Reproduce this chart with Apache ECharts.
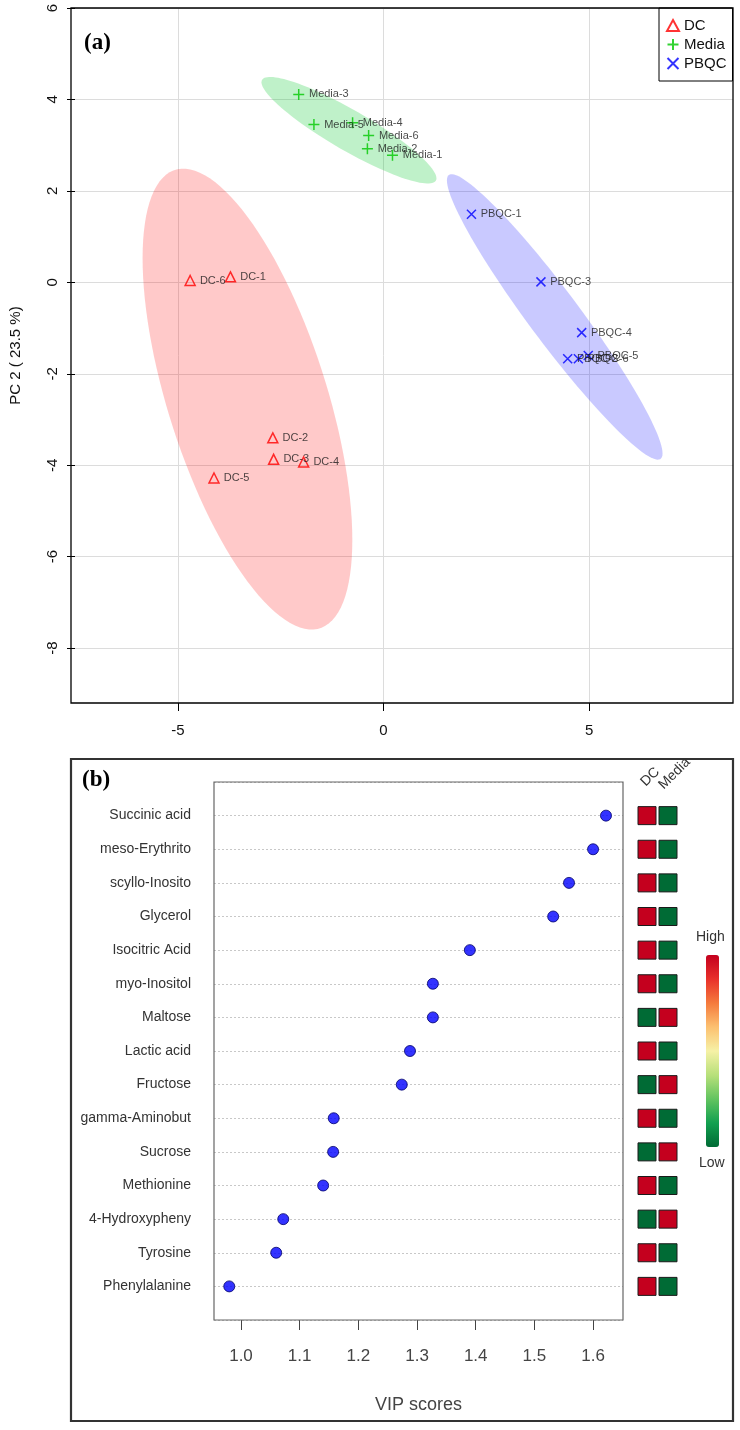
<!DOCTYPE html>
<html><head><meta charset="utf-8">
<script src="https://cdn.jsdelivr.net/npm/echarts@6/dist/echarts.min.js"></script>
<style>html,body{margin:0;padding:0;background:#fff}#c{width:740px;height:1430px}</style>
</head><body><div id="c"></div>
<script>
// ---------- Panel (a) data: PCA scores ----------
const dcLabels = ['DC-1','DC-2','DC-3','DC-4','DC-5','DC-6'];
const dcPC1 = [-3.72,-2.69,-2.67,-1.94,-4.12,-4.70];
const dcPC2 = [0.12,-3.40,-3.87,-3.93,-4.28,0.04];
const mediaLabels = ['Media-1','Media-2','Media-3','Media-4','Media-5','Media-6'];
const mediaPC1 = [0.22,-0.39,-2.06,-0.75,-1.69,-0.36];
const mediaPC2 = [2.78,2.92,4.11,3.49,3.45,3.21];
const pbqcLabels = ['PBQC-1','PBQC-2','PBQC-3','PBQC-4','PBQC-5','PBQC-6'];
const pbqcPC1 = [2.14,4.48,3.83,4.82,4.98,4.74];
const pbqcPC2 = [1.49,-1.67,0.01,-1.10,-1.60,-1.67];
const xTicksA = [-5,0,5];
const yTicksA = [-8,-6,-4,-2,0,2,4,6];

// ---------- Panel (b) data: VIP scores ----------
const vipNames = ['Succinic acid','meso-Erythrito','scyllo-Inosito','Glycerol','Isocitric Acid','myo-Inositol','Maltose','Lactic acid','Fructose','gamma-Aminobut','Sucrose','Methionine','4-Hydroxypheny','Tyrosine','Phenylalanine'];
const vipScores = [1.622,1.600,1.559,1.532,1.390,1.327,1.327,1.288,1.274,1.158,1.157,1.140,1.072,1.060,0.980];
const heatGroups = ['DC','Media'];
const heatDC    = [1,1,1,1,1,1,0,1,0,1,0,1,0,1,1];
const heatMedia = [0,0,0,0,0,0,1,0,1,0,1,0,1,0,0];
const vipTicks = [1.0,1.1,1.2,1.3,1.4,1.5,1.6];

const FONT = '"Liberation Sans", Arial, sans-serif';

// 95% confidence ellipse from sample covariance of the points
function confEllipse(xs, ys) {
  const n = xs.length;
  const mx = xs.reduce((a, b) => a + b, 0) / n;
  const my = ys.reduce((a, b) => a + b, 0) / n;
  let sxx = 0, syy = 0, sxy = 0;
  for (let i = 0; i < n; i++) {
    sxx += (xs[i] - mx) ** 2; syy += (ys[i] - my) ** 2; sxy += (xs[i] - mx) * (ys[i] - my);
  }
  sxx /= (n - 1); syy /= (n - 1); sxy /= (n - 1);
  const t = Math.sqrt(5.991464547);
  const a = Math.sqrt(sxx), b = sxy / a, c = Math.sqrt(syy - b * b);
  const pts = [];
  for (let k = 0; k < 120; k++) {
    const th = 2 * Math.PI * k / 120, u = Math.cos(th), v = Math.sin(th);
    pts.push([mx + t * a * u, my + t * (b * u + c * v)]);
  }
  return { center: [mx, my], pts };
}

function ellipseSeries(name, xs, ys, fill) {
  const e = confEllipse(xs, ys);
  return {
    name: name, type: 'custom', coordinateSystem: 'cartesian2d', xAxisIndex: 0, yAxisIndex: 0,
    z: 1, silent: true,
    data: [e.center],
    renderItem: function (params, api) {
      return { type: 'polygon', shape: { points: e.pts.map(p => api.coord(p)) }, style: { fill: fill, stroke: null } };
    }
  };
}

function scatterSeries(name, labels, xs, ys, symbol, size, color) {
  return {
    name: name, type: 'scatter', xAxisIndex: 0, yAxisIndex: 0, z: 5,
    symbol: symbol, symbolSize: size,
    itemStyle: { color: 'rgba(0,0,0,0)', borderColor: color, borderWidth: 1.5 },
    label: { show: true, position: 'right', distance: 4, formatter: '{b}', fontSize: 11, color: '#1a1a1a', fontFamily: FONT },
    data: labels.map((l, i) => ({ name: l, value: [xs[i], ys[i]] }))
  };
}

const heatData = [];
vipNames.forEach((n, i) => {
  heatData.push([0, i + 1, heatDC[i]]);
  heatData.push([1, i + 1, heatMedia[i]]);
});

// rotated column headers of the heat strip
const headerPos = [[648, 789], [666, 792]];
const headerGraphics = heatGroups.map((g, i) => ({
  type: 'text', z: 100, silent: true, x: headerPos[i][0], y: headerPos[i][1], rotation: Math.PI / 4,
  style: { text: g, x: 0, y: 0, textAlign: 'left', textVerticalAlign: 'bottom', font: '14px "Liberation Sans", Arial', fill: '#333' }
}));

const chart = echarts.init(document.getElementById('c'));
chart.setOption({
  animation: false,
  backgroundColor: '#fff',
  textStyle: { fontFamily: FONT },
  legend: {
    data: ['DC', 'Media', 'PBQC'], orient: 'vertical', left: 659, top: 8,
    padding: [10, 6, 10, 7], itemGap: 4, itemWidth: 12, itemHeight: 11,
    backgroundColor: '#fff', borderColor: '#000', borderWidth: 1, borderRadius: 0,
    textStyle: { fontSize: 15, color: '#111', fontFamily: FONT }
  },
  grid: [
    { left: 71, top: 8, width: 662, height: 695 },
    { left: 214, top: 782, width: 409, height: 538 },
    { left: 636.5, top: 782, width: 42, height: 538 }
  ],
  xAxis: [
    {
      gridIndex: 0, type: 'value', min: -7.5, max: 8.5, position: 'bottom',
      axisLine: { show: false, onZero: false },
      axisTick: { show: true, length: 8, customValues: xTicksA, lineStyle: { color: '#000' } },
      axisLabel: { customValues: xTicksA, margin: 20, fontSize: 15, color: '#111', fontFamily: FONT },
      splitLine: { show: true, lineStyle: { color: '#dcdcdc', width: 1 } }
    },
    {
      gridIndex: 1, type: 'value', min: 0.954, max: 1.651, position: 'bottom',
      axisLine: { show: false, onZero: false },
      axisTick: { show: true, length: 10, customValues: vipTicks, lineStyle: { color: '#444' } },
      axisLabel: { customValues: vipTicks, margin: 28, fontSize: 17, color: '#444', fontFamily: FONT, formatter: v => v.toFixed(1) },
      splitLine: { show: false },
      name: 'VIP scores', nameLocation: 'middle', nameGap: 76,
      nameTextStyle: { fontSize: 18, color: '#444', fontFamily: FONT }
    },
    {
      gridIndex: 2, type: 'category', data: heatGroups, position: 'top',
      axisLine: { show: false, onZero: false }, axisTick: { show: false },
      axisLabel: { show: false }
    }
  ],
  yAxis: [
    {
      gridIndex: 0, type: 'value', min: -9.2, max: 6, position: 'left',
      axisLine: { show: false, onZero: false },
      axisTick: { show: true, length: 8, customValues: yTicksA, lineStyle: { color: '#000' } },
      axisLabel: { customValues: yTicksA, rotate: 90, margin: 15, fontSize: 15, color: '#111', fontFamily: FONT },
      splitLine: { show: true, lineStyle: { color: '#dcdcdc', width: 1 } },
      name: 'PC 2 ( 23.5 %)', nameLocation: 'middle', nameGap: 52, nameRotate: 90,
      nameTextStyle: { fontSize: 15, color: '#111', fontFamily: FONT }
    },
    {
      gridIndex: 1, type: 'value', min: 0, max: 16, interval: 1, inverse: true, position: 'left',
      axisLine: { show: false, onZero: false }, axisTick: { show: false },
      axisLabel: { margin: 23, fontSize: 14, color: '#333', fontFamily: FONT,
        formatter: v => vipNames[v - 1] || '' },
      splitLine: { show: true, lineStyle: { color: '#c8c8c8', type: [2, 2], width: 1 } }
    },
    {
      gridIndex: 2, type: 'value', min: 0, max: 16, inverse: true, show: false
    }
  ],
  visualMap: {
    type: 'continuous', min: 0, max: 1, seriesIndex: 7, dimension: 2,
    calculable: false, show: true, orient: 'vertical', left: 706, top: 955,
    itemWidth: 13, itemHeight: 192, padding: 0, text: null, showLabel: false,
    inRange: { color: ['#006B35', '#12A050', '#62C460', '#B8E07A', '#F6F1A6', '#FCC070', '#F57A3C', '#E8302A', '#C4001E'] }
  },
  series: [
    ellipseSeries('DC ellipse', dcPC1, dcPC2, 'rgba(255,0,0,0.21)'),
    ellipseSeries('Media ellipse', mediaPC1, mediaPC2, 'rgba(0,200,40,0.25)'),
    ellipseSeries('PBQC ellipse', pbqcPC1, pbqcPC2, 'rgba(0,0,255,0.21)'),
    scatterSeries('DC', dcLabels, dcPC1, dcPC2, 'triangle', 10, '#FF0000'),
    scatterSeries('Media', mediaLabels, mediaPC1, mediaPC2, 'path://M5,0L5,10M0,5L10,5', 11, '#00C800'),
    scatterSeries('PBQC', pbqcLabels, pbqcPC1, pbqcPC2, 'path://M0,0L10,10M10,0L0,10', 9, '#0000FF'),
    {
      name: 'VIP', type: 'scatter', xAxisIndex: 1, yAxisIndex: 1, symbolSize: 11,
      itemStyle: { color: '#0000FF', borderColor: '#00006A', borderWidth: 1 },
      data: vipScores.map((v, i) => [v, i + 1])
    },
    {
      name: 'heat', type: 'custom', coordinateSystem: 'cartesian2d', xAxisIndex: 2, yAxisIndex: 2,
      encode: { x: 0, y: 1 },
      data: heatData,
      renderItem: function (params, api) {
        const p = api.coord([api.value(0), api.value(1)]);
        return { type: 'rect', shape: { x: p[0] - 9, y: p[1] - 9, width: 18, height: 18 },
          style: { fill: api.visual('color'), stroke: '#1a1a1a', lineWidth: 1 } };
      }
    }
  ],
  graphic: [
    { type: 'rect', z: 100, silent: true, shape: { x: 71, y: 8, width: 662, height: 695 }, style: { fill: 'none', stroke: '#000', lineWidth: 1.3 } },
    { type: 'rect', z: 100, silent: true, shape: { x: 214, y: 782, width: 409, height: 538 }, style: { fill: 'none', stroke: '#666', lineWidth: 1.2 } },
    { type: 'rect', z: 100, silent: true, shape: { x: 71, y: 759, width: 662, height: 662 }, style: { fill: 'none', stroke: '#333', lineWidth: 2.2 } },
    { type: 'text', z: 100, left: 84, top: 32, style: { text: '(a)', font: 'bold 23px "Liberation Serif", serif', fill: '#000' } },
    { type: 'text', z: 100, left: 82, top: 769, style: { text: '(b)', font: 'bold 23px "Liberation Serif", serif', fill: '#000' } },
    { type: 'text', z: 100, left: 696, top: 930, style: { text: 'High', font: '14px "Liberation Sans", Arial', fill: '#333' } },
    { type: 'text', z: 100, left: 699, top: 1156, style: { text: 'Low', font: '14px "Liberation Sans", Arial', fill: '#333' } }
  ].concat(headerGraphics)
});
</script></body></html>
